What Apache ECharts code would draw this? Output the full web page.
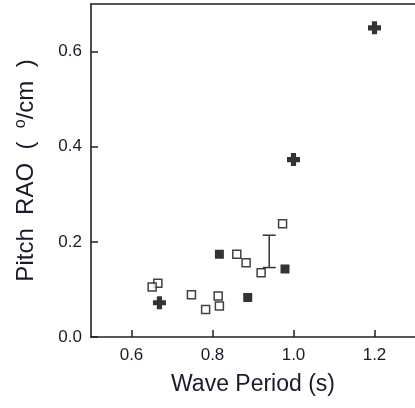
<!DOCTYPE html>
<html>
	<head>
		<meta charset="utf-8">
		<title>Pitch RAO</title>
		<script src="https://cdn.jsdelivr.net/npm/echarts@6/dist/echarts.min.js"></script>
		<style>
			html,body{margin:0;padding:0;background:#fff;}
		</style>
	</head>
	<body>
		<div id="main" style="width: 415px;height:408px;"></div>
		<script>
			// 数据
			var xTicks=[0.6,0.8,1.0,1.2]
			var yTicks=[0,0.2,0.4,0.6]
			var crossPts=[[0.669,0.072],[1.0,0.373],[1.2,0.65]]
			var filledPts=[[0.817,0.174],[0.887,0.083],[0.979,0.143]]
			var openPts=[[0.665,0.113],[0.651,0.105],[0.748,0.089],[0.783,0.058],[0.814,0.086],
				[0.817,0.065],[0.86,0.174],[0.883,0.156],[0.92,0.135],[0.973,0.238]]
			var errBar=[[0.94,0.146,0.214]]

			var myChart = echarts.init(document.getElementById('main'));
			var ink='#1a1a2a'
			var lineC='#222'
			var crossPath='path://M3,0 H7 V3 H10 V7 H7 V10 H3 V7 H0 V3 H3 Z'
			var option = {
				animation:false,
				grid:{left:91,top:4,right:-9,bottom:71},
				xAxis:[{
					type:'value',min:0.5,max:1.3,
					name:'Wave Period (s)',nameLocation:'middle',nameGap:36,
					nameTextStyle:{fontSize:23,color:ink,fontFamily:'Liberation Sans'},
					splitLine:{show:false},
					axisLine:{lineStyle:{color:lineC,width:1.6}},
					axisTick:{inside:true,length:7,customValues:xTicks,lineStyle:{color:lineC,width:1.5}},
					axisLabel:{customValues:xTicks,margin:10,fontSize:17,color:ink,fontFamily:'Liberation Sans',
						formatter:function(v){return v.toFixed(1)}}
				},{
					type:'value',position:'top',min:0.5,max:1.3,
					axisLine:{show:true,lineStyle:{color:lineC,width:1.6}},
					axisTick:{show:false},axisLabel:{show:false},splitLine:{show:false}
				}],
				yAxis:{
					type:'value',min:0,max:0.7,
					name:'Pitch  RAO  (  {sup|o}/cm  )',nameLocation:'middle',nameGap:52,
					nameTextStyle:{fontSize:24,color:ink,fontFamily:'Liberation Sans',
						rich:{sup:{fontSize:16,verticalAlign:'top',padding:[0,0,10,0],color:ink,fontFamily:'Liberation Sans'}}},
					splitLine:{show:false},
					axisLine:{show:true,lineStyle:{color:lineC,width:1.6}},
					axisTick:{show:true,inside:true,length:7,customValues:yTicks,lineStyle:{color:lineC,width:1.5}},
					axisLabel:{customValues:yTicks,margin:9,fontSize:17,color:ink,fontFamily:'Liberation Sans',
						formatter:function(v){return v.toFixed(1)}}
				},
				series:[{
					type:'custom',
					data:errBar,
					renderItem:function(params,api){
						var top=api.coord([api.value(0),api.value(2)])
						var bot=api.coord([api.value(0),api.value(1)])
						var w=6.5
						var st={stroke:'#333',lineWidth:1.5}
						return {type:'group',children:[
							{type:'line',shape:{x1:top[0],y1:top[1],x2:bot[0],y2:bot[1]},style:st},
							{type:'line',shape:{x1:top[0]-w,y1:top[1],x2:top[0]+w,y2:top[1]},style:st},
							{type:'line',shape:{x1:bot[0]-w,y1:bot[1],x2:bot[0]+w,y2:bot[1]},style:st}
						]}
					}
				},{
					type:'scatter',data:openPts,symbol:'rect',symbolSize:8,
					itemStyle:{color:'#fff',borderColor:'#111',borderWidth:1.5}
				},{
					type:'scatter',data:filledPts,symbol:'rect',symbolSize:9,
					itemStyle:{color:'#000'}
				},{
					type:'scatter',data:crossPts,symbol:crossPath,symbolSize:13,
					itemStyle:{color:'#000'}
				}]
			};
			myChart.setOption(option);
		</script>
	</body>
</html>
